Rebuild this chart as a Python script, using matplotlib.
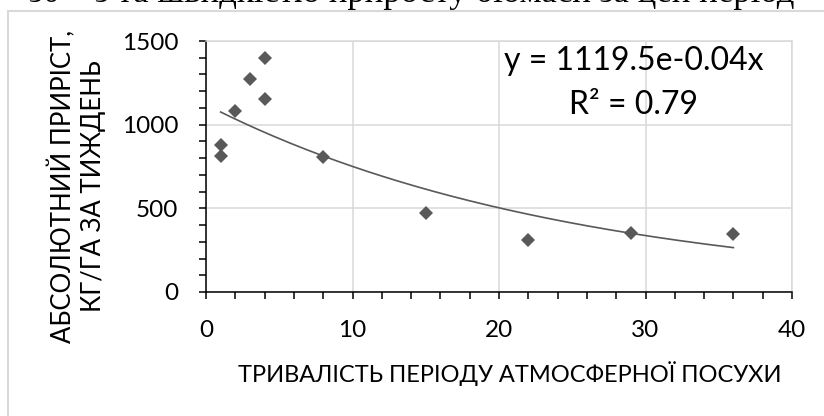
import numpy as np
import matplotlib.pyplot as plt
from matplotlib.patches import Rectangle
from matplotlib.ticker import MultipleLocator

# data
drought_days = [1, 1, 2, 3, 4, 4, 8, 15, 22, 29, 36]
growth = [878, 815, 1083, 1271, 1400, 1153, 805, 470, 311, 351, 347]

# exponential trendline shown on the chart
fit_a = 1119.5
fit_b = -0.04
fit_r2 = 0.79

x_label = "ТРИВАЛІСТЬ ПЕРІОДУ АТМОСФЕРНОЇ ПОСУХИ"
y_label = "АБСОЛЮТНИЙ ПРИРІСТ,\nКГ/ГА ЗА ТИЖДЕНЬ"
caption = "з0 – з та швидкістю приросту біомаси за цей період"

W, H = 824, 416
fig = plt.figure(figsize=(W / 100, H / 100), dpi=100)
plt.rcParams['font.family'] = ['Lato', 'DejaVu Sans']

# gray frame of the chart object (runs off the picture right and bottom)
fig.patches.append(Rectangle((8 / W, -0.1), 1.2, 1 - 11 / H + 0.1,
                             transform=fig.transFigure, fill=False,
                             edgecolor="#d9d9d9", linewidth=1.5))

# document text cut at the top
fig.text(0.5, 1 - 2 / H, caption, ha="center", va="baseline",
         fontsize=25, family="Liberation Serif", color="black")

ax = fig.add_axes([206 / W, 1 - 292 / H, 586 / W, 251 / H])

xs = np.linspace(min(drought_days), max(drought_days), 200)
ax.plot(xs, fit_a * np.exp(fit_b * xs), color="#595959", linewidth=1.2, zorder=3)
ax.plot(drought_days, growth, linestyle="none", marker="D", markersize=7.5,
        markerfacecolor="#595959", markeredgewidth=0, zorder=4)

ax.set_xlim(0, 40)
ax.set_ylim(0, 1500)
ax.xaxis.set_major_locator(MultipleLocator(10))
ax.xaxis.set_minor_locator(MultipleLocator(2))
ax.yaxis.set_major_locator(MultipleLocator(500))
ax.yaxis.set_minor_locator(MultipleLocator(100))

ax.grid(True, which="major", color="#d9d9d9", linewidth=1.1)
ax.set_axisbelow(True)
for s in ["top", "right"]:
    ax.spines[s].set_color("#d9d9d9")
    ax.spines[s].set_linewidth(1.1)
for s in ["left", "bottom"]:
    ax.spines[s].set_color("black")
    ax.spines[s].set_linewidth(1.1)

ax.tick_params(which="both", direction="out", length=5, width=1.1, color="black")
ax.tick_params(which="major", labelsize=17.5, pad=15)

ax.text(0.73, 0.884, "y = 1119.5e-0.04x", transform=ax.transAxes,
        ha="center", va="baseline", fontsize=23)
ax.text(0.73, 0.709, "R² = %.2f" % fit_r2, transform=ax.transAxes,
        ha="center", va="baseline", fontsize=23)

fig.text(510 / W, 1 - 374 / H, x_label, ha="center", va="center", fontsize=17)
fig.text(77 / W, 1 - 186 / H, y_label, ha="center", va="center", fontsize=18.5,
         rotation=90, multialignment="center", linespacing=1.2)

fig.savefig("out.png", dpi=100)
